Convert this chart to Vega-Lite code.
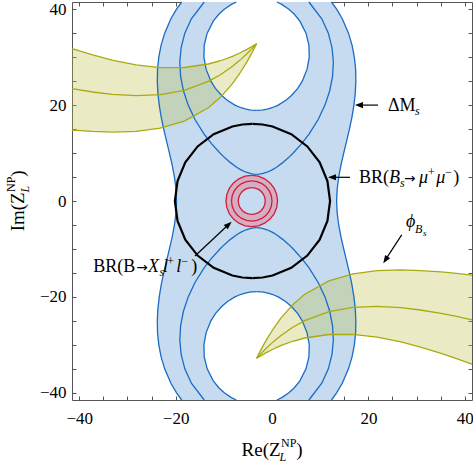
{
  "$schema": "https://vega.github.io/schema/vega-lite/v6.json",
  "width": 400,
  "height": 398,
  "autosize": {"type": "none"},
  "padding": {"left": 72, "top": 2, "right": 1, "bottom": 64},
  "background": "white",
  "config": {
    "view": {"stroke": null},
    "axis": {"grid": false, "domainColor": "#555", "tickColor": "#555", "tickSize": -4, "tickWidth": 1, "domainWidth": 1, "labelFont": "Liberation Serif", "labelFontSize": 17, "labelColor": "#000"},
    "text": {"font": "Liberation Serif", "align": "left", "baseline": "alphabetic", "color": "#000"}
  },
  "datasets": {
    "cas": [
      {"c":"out","v":-41.5,"xl":-18.74,"xr":12.34},{"c":"out","v":-40,"xl":-19.81,"xr":13.41},{"c":"out","v":-38,"xl":-20.98,"xr":14.58},{"c":"out","v":-35,"xl":-22.27,"xr":15.87},{"c":"out","v":-32.5,"xl":-23.01,"xr":16.61},{"c":"out","v":-30,"xl":-23.49,"xr":17.09},{"c":"out","v":-27.5,"xl":-23.75,"xr":17.35},{"c":"out","v":-25,"xl":-23.80,"xr":17.40},{"c":"out","v":-22.5,"xl":-23.68,"xr":17.28},{"c":"out","v":-20,"xl":-23.40,"xr":17.00},{"c":"out","v":-17.5,"xl":-22.99,"xr":16.59},{"c":"out","v":-15,"xl":-22.47,"xr":16.07},{"c":"out","v":-12.5,"xl":-21.88,"xr":15.48},{"c":"out","v":-10,"xl":-21.28,"xr":14.88},{"c":"out","v":-7.5,"xl":-20.71,"xr":14.31},{"c":"out","v":-5,"xl":-20.24,"xr":13.84},{"c":"out","v":-2.5,"xl":-19.92,"xr":13.52},{"c":"out","v":0,"xl":-19.81,"xr":13.41},{"c":"out","v":2.5,"xl":-19.92,"xr":13.52},{"c":"out","v":5,"xl":-20.24,"xr":13.84},{"c":"out","v":7.5,"xl":-20.71,"xr":14.31},{"c":"out","v":10,"xl":-21.28,"xr":14.88},{"c":"out","v":12.5,"xl":-21.88,"xr":15.48},{"c":"out","v":15,"xl":-22.47,"xr":16.07},{"c":"out","v":17.5,"xl":-22.99,"xr":16.59},{"c":"out","v":20,"xl":-23.40,"xr":17.00},{"c":"out","v":22.5,"xl":-23.68,"xr":17.28},{"c":"out","v":25,"xl":-23.80,"xr":17.40},{"c":"out","v":27.5,"xl":-23.75,"xr":17.35},{"c":"out","v":30,"xl":-23.49,"xr":17.09},{"c":"out","v":32.5,"xl":-23.01,"xr":16.61},{"c":"out","v":35,"xl":-22.27,"xr":15.87},{"c":"out","v":38,"xl":-20.98,"xr":14.58},{"c":"out","v":40,"xl":-19.81,"xr":13.41},{"c":"out","v":41.5,"xl":-18.74,"xr":12.34},
      {"c":"midT","v":5.568,"xl":-3.2,"xr":-3.2},{"c":"midT","v":5.6,"xl":-3.78,"xr":-2.62},{"c":"midT","v":5.7,"xl":-4.38,"xr":-2.02},{"c":"midT","v":6,"xl":-5.36,"xr":-1.04},{"c":"midT","v":6.5,"xl":-6.43,"xr":0.03},{"c":"midT","v":7,"xl":-7.26,"xr":0.86},{"c":"midT","v":8,"xl":-8.62,"xr":2.22},{"c":"midT","v":9,"xl":-9.78,"xr":3.38},{"c":"midT","v":10,"xl":-10.81,"xr":4.41},{"c":"midT","v":12,"xl":-12.60,"xr":6.20},{"c":"midT","v":14,"xl":-14.12,"xr":7.72},{"c":"midT","v":17,"xl":-15.98,"xr":9.58},{"c":"midT","v":20,"xl":-17.39,"xr":10.99},{"c":"midT","v":23,"xl":-18.38,"xr":11.98},{"c":"midT","v":26,"xl":-18.96,"xr":12.56},{"c":"midT","v":29,"xl":-19.13,"xr":12.73},{"c":"midT","v":32,"xl":-18.85,"xr":12.45},{"c":"midT","v":35,"xl":-18.09,"xr":11.69},{"c":"midT","v":38,"xl":-16.73,"xr":10.33},{"c":"midT","v":41.5,"xl":-14.06,"xr":7.66},
      {"c":"midB","v":-41.5,"xl":-14.06,"xr":7.66},{"c":"midB","v":-38,"xl":-16.73,"xr":10.33},{"c":"midB","v":-35,"xl":-18.09,"xr":11.69},{"c":"midB","v":-32,"xl":-18.85,"xr":12.45},{"c":"midB","v":-29,"xl":-19.13,"xr":12.73},{"c":"midB","v":-26,"xl":-18.96,"xr":12.56},{"c":"midB","v":-23,"xl":-18.38,"xr":11.98},{"c":"midB","v":-20,"xl":-17.39,"xr":10.99},{"c":"midB","v":-17,"xl":-15.98,"xr":9.58},{"c":"midB","v":-14,"xl":-14.12,"xr":7.72},{"c":"midB","v":-12,"xl":-12.60,"xr":6.20},{"c":"midB","v":-10,"xl":-10.81,"xr":4.41},{"c":"midB","v":-9,"xl":-9.78,"xr":3.38},{"c":"midB","v":-8,"xl":-8.62,"xr":2.22},{"c":"midB","v":-7,"xl":-7.26,"xr":0.86},{"c":"midB","v":-6.5,"xl":-6.43,"xr":0.03},{"c":"midB","v":-6,"xl":-5.36,"xr":-1.04},{"c":"midB","v":-5.7,"xl":-4.38,"xr":-2.02},{"c":"midB","v":-5.6,"xl":-3.78,"xr":-2.62},{"c":"midB","v":-5.568,"xl":-3.2,"xr":-3.2},
      {"c":"holeT","v":18.894,"xl":-3.2,"xr":-3.2},{"c":"holeT","v":18.95,"xl":-4.23,"xr":-2.17},{"c":"holeT","v":19,"xl":-4.61,"xr":-1.79},{"c":"holeT","v":19.2,"xl":-5.59,"xr":-0.81},{"c":"holeT","v":19.5,"xl":-6.55,"xr":0.15},{"c":"holeT","v":20,"xl":-7.69,"xr":1.29},{"c":"holeT","v":21,"xl":-9.29,"xr":2.89},{"c":"holeT","v":22,"xl":-10.44,"xr":4.04},{"c":"holeT","v":23.5,"xl":-11.74,"xr":5.34},{"c":"holeT","v":25,"xl":-12.68,"xr":6.28},{"c":"holeT","v":27.5,"xl":-13.68,"xr":7.28},{"c":"holeT","v":30,"xl":-14.13,"xr":7.73},{"c":"holeT","v":32.5,"xl":-14.06,"xr":7.66},{"c":"holeT","v":35,"xl":-13.45,"xr":7.05},{"c":"holeT","v":37.5,"xl":-12.19,"xr":5.79},{"c":"holeT","v":39,"xl":-10.99,"xr":4.59},{"c":"holeT","v":40,"xl":-9.90,"xr":3.50},{"c":"holeT","v":41,"xl":-8.42,"xr":2.02},{"c":"holeT","v":41.5,"xl":-7.41,"xr":1.01},
      {"c":"holeB","v":-41.5,"xl":-7.41,"xr":1.01},{"c":"holeB","v":-41,"xl":-8.42,"xr":2.02},{"c":"holeB","v":-40,"xl":-9.90,"xr":3.50},{"c":"holeB","v":-39,"xl":-10.99,"xr":4.59},{"c":"holeB","v":-37.5,"xl":-12.19,"xr":5.79},{"c":"holeB","v":-35,"xl":-13.45,"xr":7.05},{"c":"holeB","v":-32.5,"xl":-14.06,"xr":7.66},{"c":"holeB","v":-30,"xl":-14.13,"xr":7.73},{"c":"holeB","v":-27.5,"xl":-13.68,"xr":7.28},{"c":"holeB","v":-25,"xl":-12.68,"xr":6.28},{"c":"holeB","v":-23.5,"xl":-11.74,"xr":5.34},{"c":"holeB","v":-22,"xl":-10.44,"xr":4.04},{"c":"holeB","v":-21,"xl":-9.29,"xr":2.89},{"c":"holeB","v":-20,"xl":-7.69,"xr":1.29},{"c":"holeB","v":-19.5,"xl":-6.55,"xr":0.15},{"c":"holeB","v":-19.2,"xl":-5.59,"xr":-0.81},{"c":"holeB","v":-19,"xl":-4.61,"xr":-1.79},{"c":"holeB","v":-18.95,"xl":-4.23,"xr":-2.17},{"c":"holeB","v":-18.894,"xl":-3.2,"xr":-3.2}
    ],
    "yel": [
      {"b":"UL","x":-3.2,"yt":32.80,"ym":32.80,"yb":32.80},{"b":"UL","x":-4.2,"yt":32.19,"ym":31.73,"yb":30.83},{"b":"UL","x":-5.2,"yt":31.63,"ym":30.72,"yb":29.02},{"b":"UL","x":-6.7,"yt":30.86,"ym":29.33,"yb":26.59},{"b":"UL","x":-8.2,"yt":30.18,"ym":28.09,"yb":24.48},{"b":"UL","x":-10.7,"yt":29.25,"ym":26.34,"yb":21.62},{"b":"UL","x":-13.2,"yt":28.57,"ym":24.94,"yb":19.45},{"b":"UL","x":-18.2,"yt":27.84,"ym":23.08,"yb":16.65},{"b":"UL","x":-23.2,"yt":27.83,"ym":22.17,"yb":15.19},{"b":"UL","x":-28.2,"yt":28.40,"ym":21.96,"yb":14.53},{"b":"UL","x":-33.2,"yt":29.40,"ym":22.24,"yb":14.38},{"b":"UL","x":-37.2,"yt":30.45,"ym":22.73,"yb":14.50},{"b":"UL","x":-41.5,"yt":31.77,"ym":23.44,"yb":14.80},
      {"b":"LR","x":-3.2,"yt":-32.80,"ym":-32.80,"yb":-32.80},{"b":"LR","x":-2.2,"yt":-30.83,"ym":-31.73,"yb":-32.19},{"b":"LR","x":-1.2,"yt":-29.02,"ym":-30.72,"yb":-31.63},{"b":"LR","x":0.3,"yt":-26.59,"ym":-29.33,"yb":-30.86},{"b":"LR","x":1.8,"yt":-24.48,"ym":-28.09,"yb":-30.18},{"b":"LR","x":4.3,"yt":-21.62,"ym":-26.34,"yb":-29.25},{"b":"LR","x":6.8,"yt":-19.45,"ym":-24.94,"yb":-28.57},{"b":"LR","x":11.8,"yt":-16.65,"ym":-23.08,"yb":-27.84},{"b":"LR","x":16.8,"yt":-15.19,"ym":-22.17,"yb":-27.83},{"b":"LR","x":21.8,"yt":-14.53,"ym":-21.96,"yb":-28.40},{"b":"LR","x":26.8,"yt":-14.38,"ym":-22.24,"yb":-29.40},{"b":"LR","x":30.8,"yt":-14.50,"ym":-22.73,"yb":-30.45},{"b":"LR","x":35.1,"yt":-14.80,"ym":-23.44,"yb":-31.77},{"b":"LR","x":38.3,"yt":-15.11,"ym":-24.08,"yb":-32.86},{"b":"LR","x":41.5,"yt":-15.46,"ym":-24.78,"yb":-34.03}
    ],
    "circ": [
      {"c":"blk","v":-16.1,"xl":-4.05,"xr":-4.05},{"c":"blk","v":-15.96,"xl":-6.15,"xr":-1.95},{"c":"blk","v":-15.55,"xl":-8.22,"xr":0.12},{"c":"blk","v":-13.94,"xl":-12.10,"xr":4.00},{"c":"blk","v":-11.38,"xl":-15.43,"xr":7.33},{"c":"blk","v":-8.05,"xl":-17.99,"xr":9.89},{"c":"blk","v":-4.17,"xl":-19.60,"xr":11.50},{"c":"blk","v":0,"xl":-20.15,"xr":12.05},{"c":"blk","v":4.17,"xl":-19.60,"xr":11.50},{"c":"blk","v":8.05,"xl":-17.99,"xr":9.89},{"c":"blk","v":11.38,"xl":-15.43,"xr":7.33},{"c":"blk","v":13.94,"xl":-12.10,"xr":4.00},{"c":"blk","v":15.55,"xl":-8.22,"xr":0.12},{"c":"blk","v":15.96,"xl":-6.15,"xr":-1.95},{"c":"blk","v":16.1,"xl":-4.05,"xr":-4.05},
      {"c":"r3","v":-5.35,"xl":-4.2,"xr":-4.2},{"c":"r3","v":-5.168,"xl":-5.585,"xr":-2.815},{"c":"r3","v":-4.633,"xl":-6.875,"xr":-1.525},{"c":"r3","v":-3.783,"xl":-7.983,"xr":-0.417},{"c":"r3","v":-2.675,"xl":-8.833,"xr":0.433},{"c":"r3","v":-1.385,"xl":-9.368,"xr":0.968},{"c":"r3","v":0,"xl":-9.55,"xr":1.15},{"c":"r3","v":1.385,"xl":-9.368,"xr":0.968},{"c":"r3","v":2.675,"xl":-8.833,"xr":0.433},{"c":"r3","v":3.783,"xl":-7.983,"xr":-0.417},{"c":"r3","v":4.633,"xl":-6.875,"xr":-1.525},{"c":"r3","v":5.168,"xl":-5.585,"xr":-2.815},{"c":"r3","v":5.35,"xl":-4.2,"xr":-4.2},
      {"c":"r2","v":-4.2,"xl":-4.2,"xr":-4.2},{"c":"r2","v":-4.057,"xl":-5.287,"xr":-3.113},{"c":"r2","v":-3.637,"xl":-6.3,"xr":-2.1},{"c":"r2","v":-2.97,"xl":-7.17,"xr":-1.23},{"c":"r2","v":-2.1,"xl":-7.837,"xr":-0.563},{"c":"r2","v":-1.087,"xl":-8.257,"xr":-0.143},{"c":"r2","v":0,"xl":-8.4,"xr":0},{"c":"r2","v":1.087,"xl":-8.257,"xr":-0.143},{"c":"r2","v":2.1,"xl":-7.837,"xr":-0.563},{"c":"r2","v":2.97,"xl":-7.17,"xr":-1.23},{"c":"r2","v":3.637,"xl":-6.3,"xr":-2.1},{"c":"r2","v":4.057,"xl":-5.287,"xr":-3.113},{"c":"r2","v":4.2,"xl":-4.2,"xr":-4.2},
      {"c":"r1","v":-2.8,"xl":-4.2,"xr":-4.2},{"c":"r1","v":-2.705,"xl":-4.925,"xr":-3.475},{"c":"r1","v":-2.425,"xl":-5.6,"xr":-2.8},{"c":"r1","v":-1.98,"xl":-6.18,"xr":-2.22},{"c":"r1","v":-1.4,"xl":-6.625,"xr":-1.775},{"c":"r1","v":-0.725,"xl":-6.905,"xr":-1.495},{"c":"r1","v":0,"xl":-7.0,"xr":-1.4},{"c":"r1","v":0.725,"xl":-6.905,"xr":-1.495},{"c":"r1","v":1.4,"xl":-6.625,"xr":-1.775},{"c":"r1","v":1.98,"xl":-6.18,"xr":-2.22},{"c":"r1","v":2.425,"xl":-5.6,"xr":-2.8},{"c":"r1","v":2.705,"xl":-4.925,"xr":-3.475},{"c":"r1","v":2.8,"xl":-4.2,"xr":-4.2}
    ],
    "arrows": [
      {"x":21.99,"y":20.0,"x2":17.8,"y2":20.0},
      {"x":16.18,"y":4.94,"x2":12.2,"y2":4.94},
      {"x":26.91,"y":-7.08,"x2":23.4,"y2":-12.5},
      {"x":-15.98,"y":-11.46,"x2":-8.9,"y2":-4.8}
    ]
  },
  "layer": [
    {
      "data": {"name": "cas"},
      "transform": [{"filter": "datum.c == 'out'"}],
      "mark": {"type": "area", "orient": "horizontal", "color": "#c6dbef", "opacity": 1},
      "encoding": {
        "y": {"field": "v", "type": "quantitative", "scale": {"domain": [-41.5, 41.5], "nice": false, "zero": false},
              "axis": {"orient": "left", "title": null, "values": [-40,-35,-30,-25,-20,-15,-10,-5,0,5,10,15,20,25,30,35,40], "labelExpr": "datum.value % 20 === 0 ? datum.label : ''", "labelPadding": 10}},
        "x": {"field": "xl", "type": "quantitative", "stack": null, "scale": {"domain": [-41.5, 41.5], "nice": false, "zero": false},
              "axis": {"orient": "bottom", "title": null, "values": [-40,-35,-30,-25,-20,-15,-10,-5,0,5,10,15,20,25,30,35,40], "labelExpr": "datum.value % 20 === 0 ? datum.label : ''", "labelPadding": 14, "labelFlush": false}},
        "x2": {"field": "xr"}
      }
    },
    {
      "data": {"name": "cas"},
      "transform": [{"filter": "datum.c == 'holeT' || datum.c == 'holeB'"}],
      "mark": {"type": "area", "orient": "horizontal", "color": "#ffffff", "opacity": 1},
      "encoding": {
        "y": {"field": "v", "type": "quantitative", "scale": {"domain": [-41.5, 41.5], "nice": false, "zero": false}, "axis": null},
        "x": {"field": "xl", "type": "quantitative", "stack": null, "scale": {"domain": [-41.5, 41.5], "nice": false, "zero": false}, "axis": null},
        "x2": {"field": "xr"},
        "detail": {"field": "c"}
      }
    },
    {
      "data": {"name": "yel"},
      "mark": {"type": "area", "color": "#bfc24a", "opacity": 0.32},
      "encoding": {
        "x": {"field": "x", "type": "quantitative", "scale": {"domain": [-41.5, 41.5], "nice": false, "zero": false}, "axis": null},
        "y": {"field": "yt", "type": "quantitative", "stack": null, "scale": {"domain": [-41.5, 41.5], "nice": false, "zero": false}, "axis": null},
        "y2": {"field": "yb"},
        "detail": {"field": "b"}
      }
    },
    {
      "data": {"name": "circ"},
      "transform": [{"filter": "datum.c == 'r3'"}],
      "mark": {"type": "area", "orient": "horizontal", "color": "#d6aec3", "opacity": 1},
      "encoding": {
        "y": {"field": "v", "type": "quantitative", "scale": {"domain": [-41.5, 41.5], "nice": false, "zero": false}, "axis": null},
        "x": {"field": "xl", "type": "quantitative", "stack": null, "scale": {"domain": [-41.5, 41.5], "nice": false, "zero": false}, "axis": null},
        "x2": {"field": "xr"}
      }
    },
    {
      "data": {"name": "circ"},
      "transform": [{"filter": "datum.c == 'r1'"}],
      "mark": {"type": "area", "orient": "horizontal", "color": "#c6dbef", "opacity": 1},
      "encoding": {
        "y": {"field": "v", "type": "quantitative", "scale": {"domain": [-41.5, 41.5], "nice": false, "zero": false}, "axis": null},
        "x": {"field": "xl", "type": "quantitative", "stack": null, "scale": {"domain": [-41.5, 41.5], "nice": false, "zero": false}, "axis": null},
        "x2": {"field": "xr"}
      }
    },
    {
      "mark": {"type": "rule", "color": "#444", "strokeWidth": 1},
      "encoding": {"x": {"datum": 0, "type": "quantitative", "scale": {"domain": [-41.5, 41.5], "nice": false, "zero": false}, "axis": null}}
    },
    {
      "mark": {"type": "rule", "color": "#444", "strokeWidth": 1},
      "encoding": {"y": {"datum": 0, "type": "quantitative", "scale": {"domain": [-41.5, 41.5], "nice": false, "zero": false}, "axis": null}}
    },
    {
      "data": {"name": "cas"},
      "transform": [{"fold": ["xl", "xr"], "as": ["side", "xv"]}],
      "mark": {"type": "line", "color": "#1a6cc4", "strokeWidth": 1.3},
      "encoding": {
        "x": {"field": "xv", "type": "quantitative", "scale": {"domain": [-41.5, 41.5], "nice": false, "zero": false},
              "axis": {"orient": "top", "title": null, "labels": false, "values": [-40,-35,-30,-25,-20,-15,-10,-5,0,5,10,15,20,25,30,35,40]}},
        "y": {"field": "v", "type": "quantitative", "scale": {"domain": [-41.5, 41.5], "nice": false, "zero": false},
              "axis": {"orient": "right", "title": null, "labels": false, "values": [-40,-35,-30,-25,-20,-15,-10,-5,0,5,10,15,20,25,30,35,40]}},
        "detail": [{"field": "c"}, {"field": "side"}],
        "order": {"field": "v", "type": "quantitative"}
      }
    },
    {
      "data": {"name": "yel"},
      "transform": [{"fold": ["yt", "ym", "yb"], "as": ["curve", "yv"]}],
      "mark": {"type": "line", "color": "#a9aa10", "strokeWidth": 1.3},
      "encoding": {
        "x": {"field": "x", "type": "quantitative", "scale": {"domain": [-41.5, 41.5], "nice": false, "zero": false}, "axis": null},
        "y": {"field": "yv", "type": "quantitative", "scale": {"domain": [-41.5, 41.5], "nice": false, "zero": false}, "axis": null},
        "detail": [{"field": "b"}, {"field": "curve"}],
        "order": {"field": "x", "type": "quantitative"}
      }
    },
    {
      "data": {"name": "circ"},
      "transform": [{"filter": "datum.c == 'blk'"}, {"fold": ["xl", "xr"], "as": ["side", "xv"]}],
      "mark": {"type": "line", "color": "#000000", "strokeWidth": 2.2},
      "encoding": {
        "x": {"field": "xv", "type": "quantitative", "scale": {"domain": [-41.5, 41.5], "nice": false, "zero": false}, "axis": null},
        "y": {"field": "v", "type": "quantitative", "scale": {"domain": [-41.5, 41.5], "nice": false, "zero": false}, "axis": null},
        "detail": {"field": "side"},
        "order": {"field": "v", "type": "quantitative"}
      }
    },
    {
      "data": {"name": "circ"},
      "transform": [{"filter": "datum.c != 'blk'"}, {"fold": ["xl", "xr"], "as": ["side", "xv"]}],
      "mark": {"type": "line", "color": "#d01c3a", "strokeWidth": 1.3},
      "encoding": {
        "x": {"field": "xv", "type": "quantitative", "scale": {"domain": [-41.5, 41.5], "nice": false, "zero": false}, "axis": null},
        "y": {"field": "v", "type": "quantitative", "scale": {"domain": [-41.5, 41.5], "nice": false, "zero": false}, "axis": null},
        "detail": [{"field": "c"}, {"field": "side"}],
        "order": {"field": "v", "type": "quantitative"}
      }
    },
    {
      "data": {"name": "arrows"},
      "mark": {"type": "rule", "color": "#000000", "strokeWidth": 1.2},
      "encoding": {
        "x": {"field": "x", "type": "quantitative", "scale": {"domain": [-41.5, 41.5], "nice": false, "zero": false}, "axis": null},
        "y": {"field": "y", "type": "quantitative", "scale": {"domain": [-41.5, 41.5], "nice": false, "zero": false}, "axis": null},
        "x2": {"field": "x2"},
        "y2": {"field": "y2"}
      }
    },
    {
      "data": {"values": [{"x": 17.22, "y": 20.0}, {"x": 11.62, "y": 4.94}]},
      "mark": {"type": "point", "shape": "M0,0L-1,-0.38L-1,0.38Z", "filled": true, "color": "#000000", "opacity": 1, "size": 256, "angle": 180},
      "encoding": {
        "x": {"field": "x", "type": "quantitative", "scale": {"domain": [-41.5, 41.5], "nice": false, "zero": false}, "axis": null},
        "y": {"field": "y", "type": "quantitative", "scale": {"domain": [-41.5, 41.5], "nice": false, "zero": false}, "axis": null}
      }
    },
    {
      "data": {"values": [{"x": 23.09, "y": -12.98}]},
      "mark": {"type": "point", "shape": "M0,0L-1,-0.38L-1,0.38Z", "filled": true, "color": "#000000", "opacity": 1, "size": 256, "angle": 123},
      "encoding": {
        "x": {"field": "x", "type": "quantitative", "scale": {"domain": [-41.5, 41.5], "nice": false, "zero": false}, "axis": null},
        "y": {"field": "y", "type": "quantitative", "scale": {"domain": [-41.5, 41.5], "nice": false, "zero": false}, "axis": null}
      }
    },
    {
      "data": {"values": [{"x": -8.38, "y": -4.31}]},
      "mark": {"type": "point", "shape": "M0,0L-1,-0.38L-1,0.38Z", "filled": true, "color": "#000000", "opacity": 1, "size": 256, "angle": 317},
      "encoding": {
        "x": {"field": "x", "type": "quantitative", "scale": {"domain": [-41.5, 41.5], "nice": false, "zero": false}, "axis": null},
        "y": {"field": "y", "type": "quantitative", "scale": {"domain": [-41.5, 41.5], "nice": false, "zero": false}, "axis": null}
      }
    },
    {
      "data": {"values": [{"x": 24.07, "y": 18.75, "t": "ΔM"}, {"x": 18.05, "y": 3.75, "t": "BR("}, {"x": 37.61, "y": 3.75, "t": ")"}, {"x": -37.07, "y": -14.79, "t": "BR(B"}, {"x": -16.74, "y": -14.79, "t": ")"}]},
      "mark": {"type": "text", "fontSize": 18},
      "encoding": {
        "x": {"field": "x", "type": "quantitative", "scale": {"domain": [-41.5, 41.5], "nice": false, "zero": false}, "axis": null},
        "y": {"field": "y", "type": "quantitative", "scale": {"domain": [-41.5, 41.5], "nice": false, "zero": false}, "axis": null},
        "text": {"field": "t"}
      }
    },
    {
      "data": {"values": [{"x": 27.4, "y": 3.75, "t": "→"}, {"x": -28.15, "y": -14.79, "t": "→"}]},
      "mark": {"type": "text", "fontSize": 13.5, "font": "DejaVu Sans"},
      "encoding": {
        "x": {"field": "x", "type": "quantitative", "scale": {"domain": [-41.5, 41.5], "nice": false, "zero": false}, "axis": null},
        "y": {"field": "y", "type": "quantitative", "scale": {"domain": [-41.5, 41.5], "nice": false, "zero": false}, "axis": null},
        "text": {"field": "t"}
      }
    },
    {
      "data": {"values": [{"x": 24.27, "y": 3.75, "t": "B"}, {"x": 30.52, "y": 3.75, "t": "μ"}, {"x": 34.07, "y": 3.75, "t": "μ"}, {"x": 27.8, "y": -5.42, "t": "ϕ"}, {"x": -25.73, "y": -14.79, "t": "X"}, {"x": -22.61, "y": -14.79, "t": "l"}, {"x": -19.85, "y": -14.79, "t": "l"}]},
      "mark": {"type": "text", "fontSize": 18, "fontStyle": "italic"},
      "encoding": {
        "x": {"field": "x", "type": "quantitative", "scale": {"domain": [-41.5, 41.5], "nice": false, "zero": false}, "axis": null},
        "y": {"field": "y", "type": "quantitative", "scale": {"domain": [-41.5, 41.5], "nice": false, "zero": false}, "axis": null},
        "text": {"field": "t"}
      }
    },
    {
      "data": {"values": [{"x": 29.67, "y": 17.92, "t": "s"}, {"x": 26.56, "y": 2.92, "t": "s"}, {"x": 29.67, "y": -6.67, "t": "B"}, {"x": -23.32, "y": -15.63, "t": "s"}, {"x": 1.56, "y": -54.17, "t": "L"}]},
      "mark": {"type": "text", "fontSize": 12, "fontStyle": "italic"},
      "encoding": {
        "x": {"field": "x", "type": "quantitative", "scale": {"domain": [-41.5, 41.5], "nice": false, "zero": false}, "axis": null},
        "y": {"field": "y", "type": "quantitative", "scale": {"domain": [-41.5, 41.5], "nice": false, "zero": false}, "axis": null},
        "text": {"field": "t"}
      }
    },
    {
      "data": {"values": [{"x": 32.39, "y": 5.21, "t": "+"}, {"x": 35.93, "y": 5.21, "t": "−"}, {"x": -21.72, "y": -13.33, "t": "+"}, {"x": -18.82, "y": -13.33, "t": "−"}, {"x": 1.87, "y": -51.25, "t": "NP"}]},
      "mark": {"type": "text", "fontSize": 12},
      "encoding": {
        "x": {"field": "x", "type": "quantitative", "scale": {"domain": [-41.5, 41.5], "nice": false, "zero": false}, "axis": null},
        "y": {"field": "y", "type": "quantitative", "scale": {"domain": [-41.5, 41.5], "nice": false, "zero": false}, "axis": null},
        "text": {"field": "t"}
      }
    },
    {
      "data": {"values": [{"x": 31.33, "y": -7.29, "t": "s"}]},
      "mark": {"type": "text", "fontSize": 9, "fontStyle": "italic"},
      "encoding": {
        "x": {"field": "x", "type": "quantitative", "scale": {"domain": [-41.5, 41.5], "nice": false, "zero": false}, "axis": null},
        "y": {"field": "y", "type": "quantitative", "scale": {"domain": [-41.5, 41.5], "nice": false, "zero": false}, "axis": null},
        "text": {"field": "t"}
      }
    },
    {
      "data": {"values": [{"x": -6.31, "y": -53.13, "t": "Re(Z"}, {"x": 5.04, "y": -53.13, "t": ")"}]},
      "mark": {"type": "text", "fontSize": 19},
      "encoding": {
        "x": {"field": "x", "type": "quantitative", "scale": {"domain": [-41.5, 41.5], "nice": false, "zero": false}, "axis": null},
        "y": {"field": "y", "type": "quantitative", "scale": {"domain": [-41.5, 41.5], "nice": false, "zero": false}, "axis": null},
        "text": {"field": "t"}
      }
    },
    {
      "data": {"values": [{"x": -51.45, "y": -6.33, "t": "Im(Z"}, {"x": -51.45, "y": 5.06, "t": ")"}]},
      "mark": {"type": "text", "fontSize": 19, "angle": 270},
      "encoding": {
        "x": {"field": "x", "type": "quantitative", "scale": {"domain": [-41.5, 41.5], "nice": false, "zero": false}, "axis": null},
        "y": {"field": "y", "type": "quantitative", "scale": {"domain": [-41.5, 41.5], "nice": false, "zero": false}, "axis": null},
        "text": {"field": "t"}
      }
    },
    {
      "data": {"values": [{"x": -53.3, "y": 1.875, "t": "NP"}]},
      "mark": {"type": "text", "fontSize": 12, "angle": 270},
      "encoding": {
        "x": {"field": "x", "type": "quantitative", "scale": {"domain": [-41.5, 41.5], "nice": false, "zero": false}, "axis": null},
        "y": {"field": "y", "type": "quantitative", "scale": {"domain": [-41.5, 41.5], "nice": false, "zero": false}, "axis": null},
        "text": {"field": "t"}
      }
    },
    {
      "data": {"values": [{"x": -50.4, "y": 1.79, "t": "L"}]},
      "mark": {"type": "text", "fontSize": 12, "fontStyle": "italic", "angle": 270},
      "encoding": {
        "x": {"field": "x", "type": "quantitative", "scale": {"domain": [-41.5, 41.5], "nice": false, "zero": false}, "axis": null},
        "y": {"field": "y", "type": "quantitative", "scale": {"domain": [-41.5, 41.5], "nice": false, "zero": false}, "axis": null},
        "text": {"field": "t"}
      }
    }
  ],
  "resolve": {"axis": {"x": "independent", "y": "independent"}}
}
